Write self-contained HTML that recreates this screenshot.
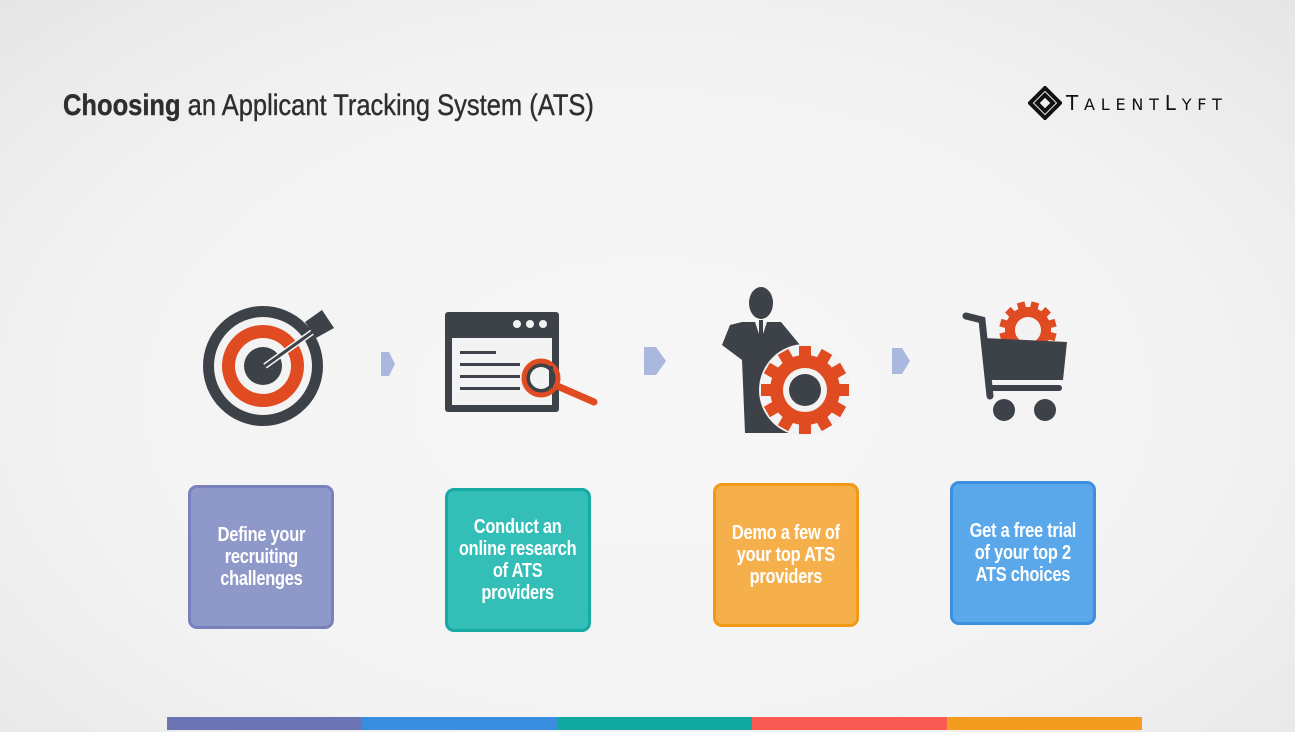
<!DOCTYPE html>
<html><head><meta charset="utf-8"><style>
body{margin:0;width:1295px;height:732px;overflow:hidden;background:radial-gradient(ellipse at 50% 55%,#f7f7f7 0%,#f3f3f3 60%,#e6e6e6 100%);font-family:"Liberation Sans Narrow","Liberation Sans",sans-serif;position:relative}
.t{position:absolute;left:63px;top:89px;font-size:30px;color:#2e2e2e;transform:scaleX(.85);transform-origin:left;white-space:nowrap;-webkit-text-stroke:.4px #2e2e2e}
.box{position:absolute;width:140px;height:138px;border:3px solid;border-radius:9px;color:#fff;font-weight:bold;font-size:20px;line-height:22px;display:flex;align-items:center;justify-content:center;text-align:center}
.box span{display:inline-block;transform:scaleX(.82);white-space:nowrap;letter-spacing:-.3px}
.bar{position:absolute;top:717px;height:13px;width:195px}
</style></head><body>
<div class="t"><b>Choosing</b> an Applicant Tracking System (ATS)</div>
<svg style="position:absolute;left:1028px;top:86px" width="34" height="34" viewBox="0 0 34 34"><path d="M17 2L32 17L17 32L2 17Z M17 9L25 17L17 25L9 17Z" fill="none" stroke="#111" stroke-width="4"/></svg>
<div style="position:absolute;left:1066px;top:91px;font-family:'DejaVu Sans',sans-serif;font-size:20px;letter-spacing:5.8px;color:#111">T<span style="font-size:16px">ALENT</span>L<span style="font-size:16px">YFT</span></div>
<svg style="position:absolute;left:0;top:0" width="1295" height="732">
<circle cx="263" cy="366" r="60" fill="#3d4148"/><circle cx="263" cy="366" r="49" fill="#f3f3f3"/><circle cx="263" cy="366" r="41" fill="#e04b22"/><circle cx="263" cy="366" r="28" fill="#f3f3f3"/><circle cx="263" cy="366" r="19" fill="#3d4148"/>
<line x1="265" y1="366" x2="318" y2="328" stroke="#f3f3f3" stroke-width="6"/><line x1="265" y1="366" x2="318" y2="328" stroke="#3d4148" stroke-width="3"/><path d="M305 322L322 310L334 328L316 338Z" fill="#3d4148"/>
<path d="M381 352h8l6 12l-6 12h-8z" fill="#aab8e0"/><path d="M644 347h12l10 14l-10 14h-12z" fill="#aab8e0"/><path d="M892 348h10l8 13l-8 13h-10z" fill="#aab8e0"/>
<rect x="445" y="312" width="114" height="100" rx="3" fill="#3d4148"/><rect x="452" y="338" width="100" height="67" fill="#f3f3f3"/>
<circle cx="517" cy="324" r="4" fill="#f3f3f3"/><circle cx="530" cy="324" r="4" fill="#f3f3f3"/><circle cx="543" cy="324" r="4" fill="#f3f3f3"/>
<rect x="460" y="351" width="36" height="3" fill="#3d4148"/><rect x="460" y="363" width="60" height="3" fill="#3d4148"/><rect x="460" y="375" width="60" height="3" fill="#3d4148"/><rect x="460" y="387" width="60" height="3" fill="#3d4148"/>
<line x1="555" y1="385" x2="594" y2="402" stroke="#e04b22" stroke-width="7" stroke-linecap="round"/><circle cx="541" cy="378" r="17" fill="#3d4148" stroke="#e04b22" stroke-width="5"/><circle cx="541" cy="378" r="11" fill="#f3f3f3"/><rect x="549" y="366" width="4" height="22" fill="#3d4148"/>
<ellipse cx="761" cy="303" rx="12" ry="16" fill="#3d4148"/><path d="M742 322L781 322L800 345L782 360L790 433L745 433L742 360L722 345L730 325Z" fill="#3d4148"/><path d="M755 322L761 340L767 322Z" fill="#f3f3f3"/><rect x="759" y="320" width="4" height="28" fill="#3d4148"/>
<g transform="translate(805,390)"><circle r="46" fill="#f3f3f3"/><g fill="#e04b22"><circle r="35"/>
<g id="tt"><rect x="-6" y="-44" width="12" height="12"/><rect x="-6" y="32" width="12" height="12"/><rect x="-44" y="-6" width="12" height="12"/><rect x="32" y="-6" width="12" height="12"/></g><use href="#tt" transform="rotate(30)"/><use href="#tt" transform="rotate(60)"/></g><circle r="22" fill="#f3f3f3"/><circle r="16" fill="#3d4148"/></g>
<g transform="translate(1028,330)"><g fill="#e04b22"><circle r="23"/><use href="#tt" transform="scale(.65) rotate(15)"/><use href="#tt" transform="scale(.65) rotate(45)"/><use href="#tt" transform="scale(.65) rotate(75)"/></g><circle r="13" fill="#f3f3f3"/></g>
<path d="M966 316L982 320L990 396" stroke="#3d4148" stroke-width="7" fill="none" stroke-linecap="round"/><path d="M984 338L1067 342L1063 380L990 380Z" fill="#3d4148"/><rect x="990" y="385" width="72" height="6" rx="3" fill="#3d4148"/>
<circle cx="1004" cy="410" r="11" fill="#3d4148"/><circle cx="1045" cy="410" r="11" fill="#3d4148"/>
</svg>
<div class="box" style="left:188px;top:485px;background:#8f99c9;border-color:#7a80bb"><span>Define your<br>recruiting<br>challenges</span></div>
<div class="box" style="left:445px;top:488px;background:#33bfb8;border-color:#16aaa3"><span>Conduct an<br>online research<br>of ATS<br>providers</span></div>
<div class="box" style="left:713px;top:483px;background:#f6b04b;border-color:#f29a18"><span>Demo a few of<br>your top ATS<br>providers</span></div>
<div class="box" style="left:950px;top:481px;background:#5aa8e9;border-color:#3d8fe0"><span>Get a free trial<br>of your top 2<br>ATS choices</span></div>
<div class="bar" style="left:167px;background:#6d74b3"></div><div class="bar" style="left:362px;background:#3a8ee0"></div><div class="bar" style="left:557px;background:#10a89f"></div><div class="bar" style="left:752px;background:#f95a54"></div><div class="bar" style="left:947px;background:#f39c1f"></div>
</body></html>
